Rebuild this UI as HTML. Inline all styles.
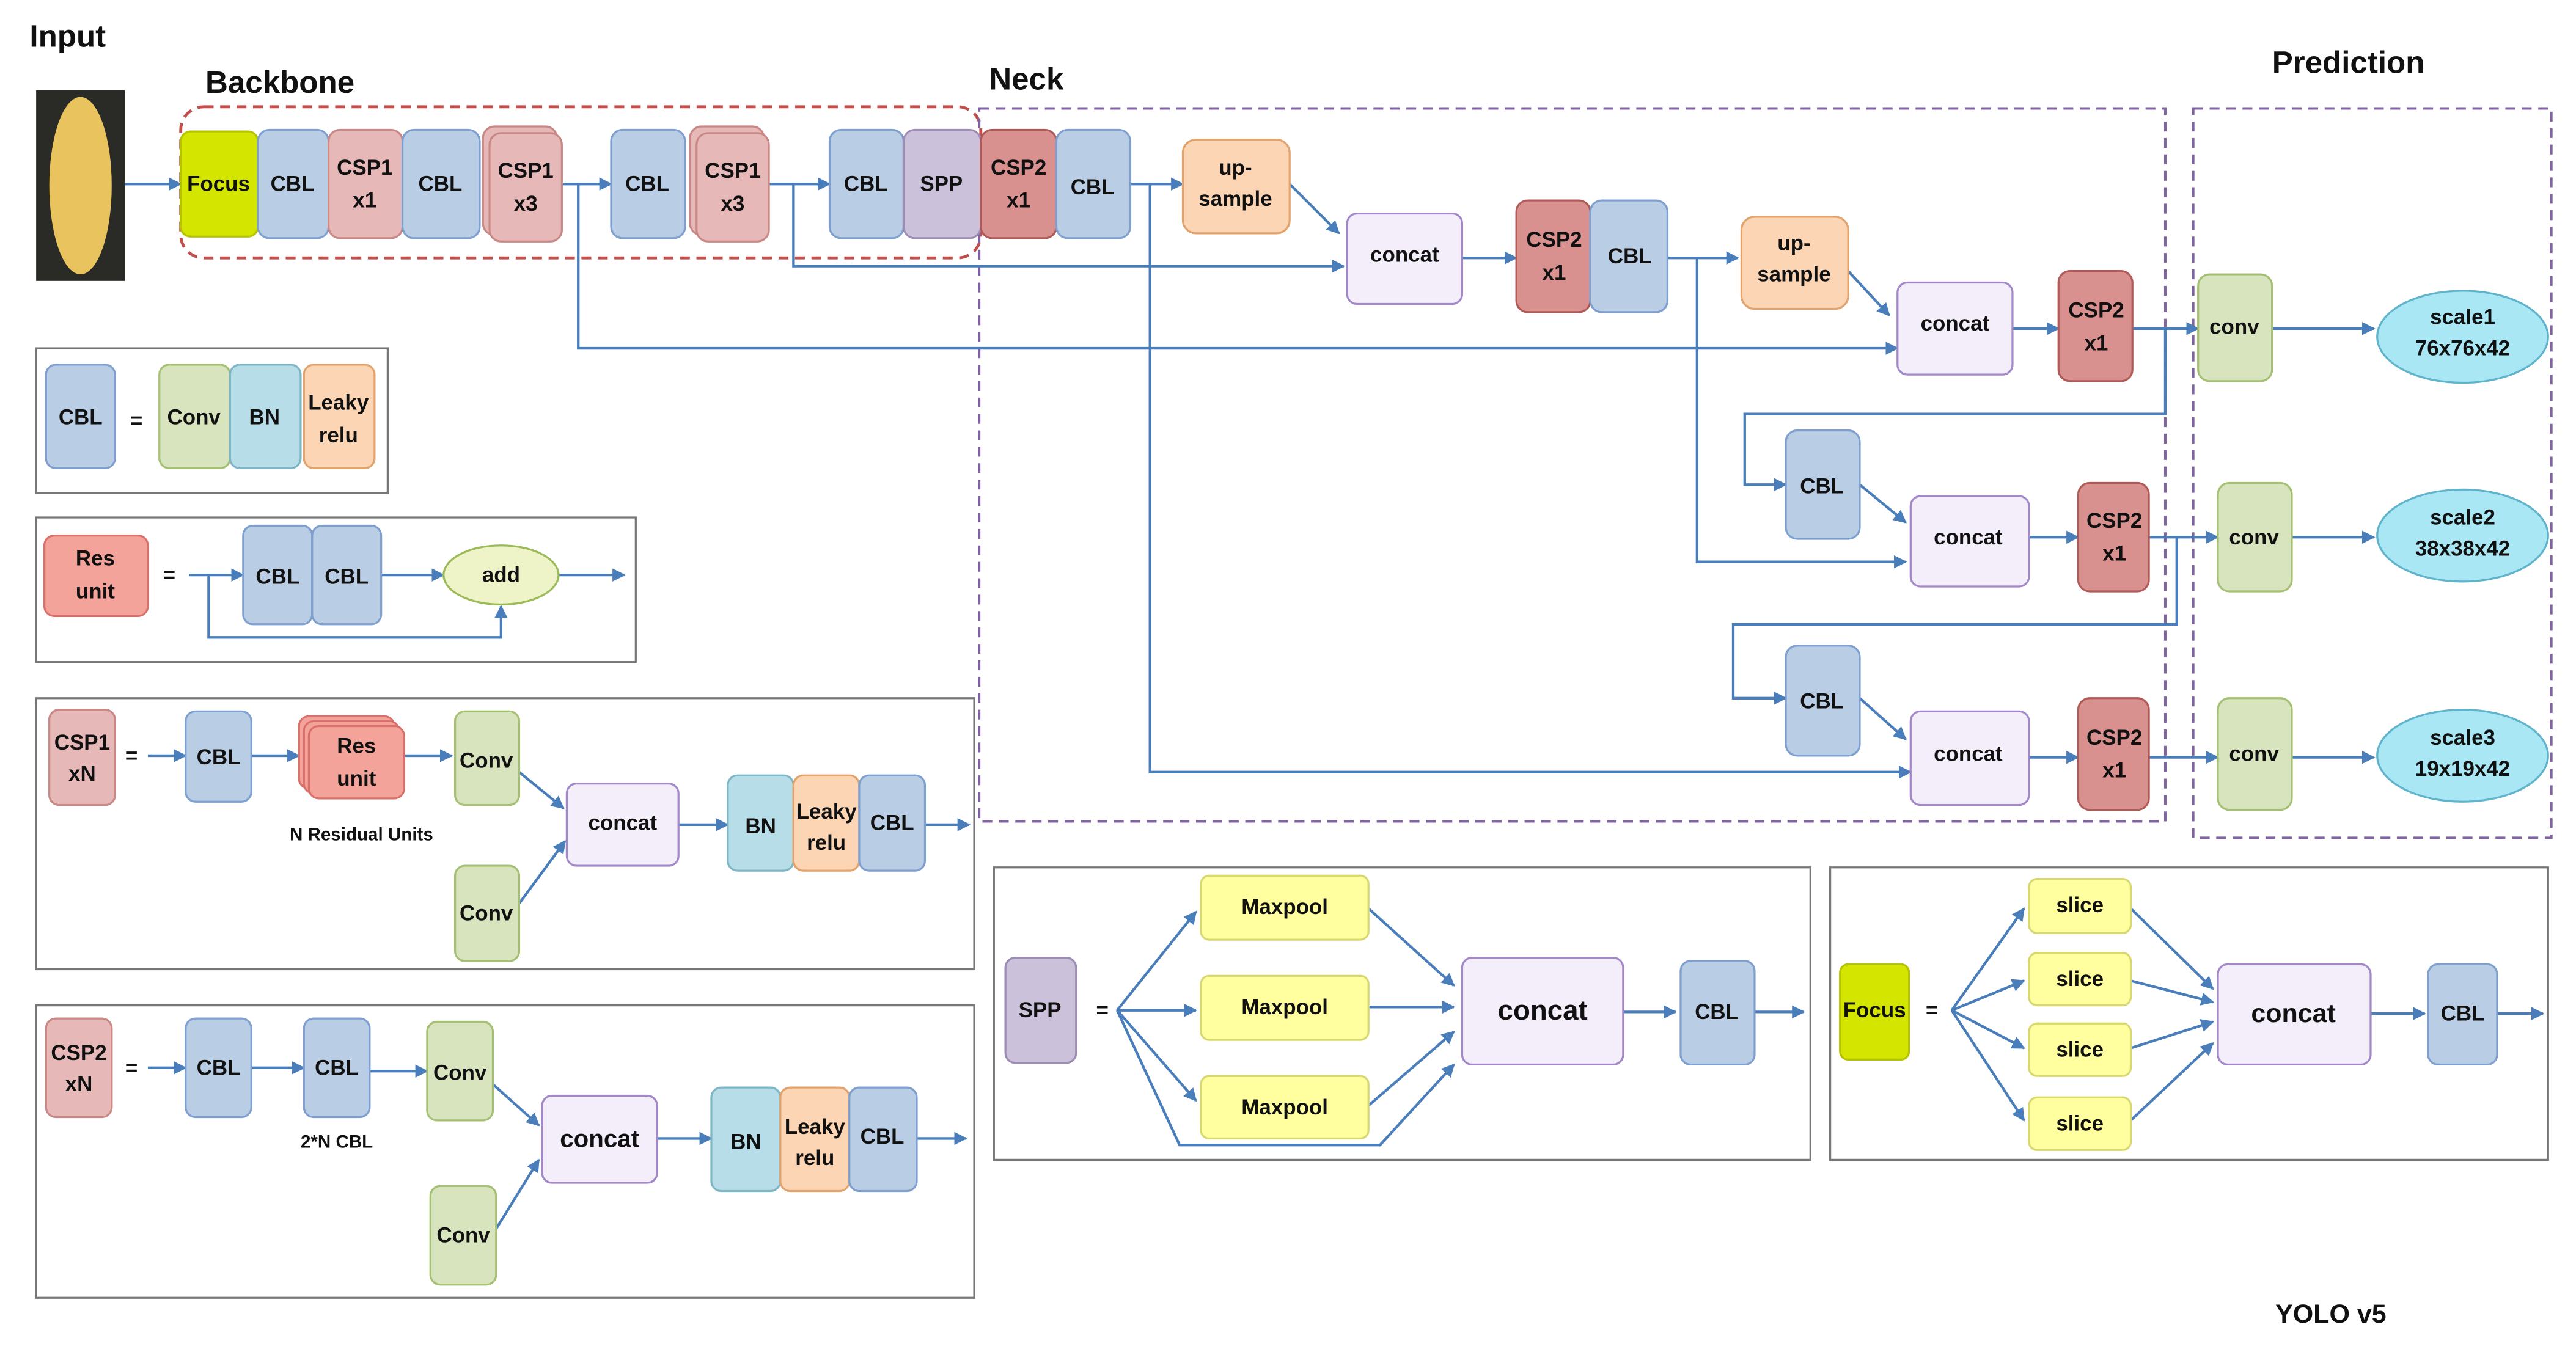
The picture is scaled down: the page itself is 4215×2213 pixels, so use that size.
<!DOCTYPE html>
<html><head><meta charset="utf-8"><style>
html,body{margin:0;padding:0;background:#fff}
svg{display:block}
text{font-family:"Liberation Sans",sans-serif;font-weight:bold;fill:#111;text-anchor:middle;dominant-baseline:central}
.t{font-size:13px}
.lbl{font-size:19px;text-anchor:start}
.ln{stroke:#4a7ebb;stroke-width:1.6;fill:none}
.bx{stroke-width:1.2}
.cbl{fill:#b9cde5;stroke:#7f9fcf}
.csp1{fill:#e6b9b8;stroke:#c98886}
.csp2{fill:#d99190;stroke:#b05a58}
.spp{fill:#ccc1da;stroke:#9d8db5}
.foc{fill:#d4e600;stroke:#b6c400}
.up{fill:#fcd5b5;stroke:#e3a36c}
.cc{fill:#f3eefa;stroke:#a288c8}
.cv{fill:#d7e4bd;stroke:#a5bf73}
.bn{fill:#b7dee8;stroke:#7fb6c6}
.lr{fill:#fcd5b5;stroke:#e3a36c}
.res{fill:#f4a39b;stroke:#d9706a}
.mp{fill:#ffff9f;stroke:#d8d870}
.sc{fill:#a9e7f4;stroke:#5fb4cc}
.leg{fill:#fff;stroke:#777;stroke-width:1.2}
</style></head><body>
<svg width="4215" height="2213" viewBox="0 0 1568 823" preserveAspectRatio="none" xmlns="http://www.w3.org/2000/svg">
<defs><marker id="a" viewBox="0 0 10 10" refX="9" refY="5" markerWidth="5" markerHeight="5" orient="auto"><path d="M0,0L10,5L0,10z" fill="#4a7ebb"/></marker></defs>
<g marker-end="url(#a)"></g>
<text class="lbl" x="18" y="22">Input</text>
<text class="lbl" x="125" y="50">Backbone</text>
<text class="lbl" x="602" y="48">Neck</text>
<text class="lbl" x="1383" y="38">Prediction</text>
<text class="lbl" x="1385" y="800" style="font-size:16px">YOLO v5</text>
<rect x="22" y="55" width="54" height="116" fill="#2a2a26"/>
<ellipse cx="49" cy="113" rx="19" ry="54" fill="#e8c35e"/>
<rect x="110" y="65" width="487" height="92" rx="14" fill="none" stroke="#c0504d" stroke-width="1.8" stroke-dasharray="6,4"/>
<rect x="596" y="66" width="722" height="434" fill="none" stroke="#8064a2" stroke-width="1.5" stroke-dasharray="6,4"/>
<rect x="1335" y="66" width="218" height="444" fill="none" stroke="#8064a2" stroke-width="1.5" stroke-dasharray="6,4"/>

<!-- connectors -->
<g class="ln" marker-end="url(#a)">
<path d="M76,112H110"/><path d="M342,112H372"/><path d="M468,112H505"/><path d="M688,112H720"/>
<path d="M352,112V212H1155"/><path d="M483,112V162H818"/><path d="M700,112V470H1163"/>
<path d="M785,112L815,142"/><path d="M890,157H923"/><path d="M1015,157H1058"/>
<path d="M1033,157V342H1160"/><path d="M1125,165L1150,192"/><path d="M1225,200H1253"/>
<path d="M1298,200H1338"/><path d="M1318,200V252H1062V295H1087"/>
<path d="M1132,295L1160,318"/><path d="M1235,327H1265"/><path d="M1308,327H1350"/>
<path d="M1325,327V380H1055V425H1087"/><path d="M1132,425L1160,450"/>
<path d="M1235,461H1265"/><path d="M1308,461H1350"/>
<path d="M1383,200H1445"/><path d="M1395,327H1445"/><path d="M1395,461H1445"/>
</g>

<!-- main row -->
<rect class="bx foc" x="110" y="80" width="47" height="64" rx="6"/><text class="t" x="133" y="112">Focus</text>
<rect class="bx cbl" x="157" y="79" width="43" height="66" rx="7"/><text class="t" x="178" y="112">CBL</text>
<rect class="bx csp1" x="200" y="79" width="45" height="66" rx="7"/><text class="t" x="222" y="102">CSP1</text><text class="t" x="222" y="122">x1</text>
<rect class="bx cbl" x="245" y="79" width="47" height="66" rx="7"/><text class="t" x="268" y="112">CBL</text>
<rect class="bx csp1" x="294" y="77" width="45" height="66" rx="7"/><rect class="bx csp1" x="298" y="81" width="44" height="66" rx="7"/><text class="t" x="320" y="104">CSP1</text><text class="t" x="320" y="124">x3</text>
<rect class="bx cbl" x="372" y="79" width="45" height="66" rx="7"/><text class="t" x="394" y="112">CBL</text>
<rect class="bx csp1" x="420" y="77" width="45" height="66" rx="7"/><rect class="bx csp1" x="424" y="81" width="44" height="66" rx="7"/><text class="t" x="446" y="104">CSP1</text><text class="t" x="446" y="124">x3</text>
<rect class="bx cbl" x="505" y="79" width="45" height="66" rx="7"/><text class="t" x="527" y="112">CBL</text>
<rect class="bx spp" x="550" y="79" width="47" height="66" rx="7"/><text class="t" x="573" y="112">SPP</text>
<rect class="bx csp2" x="597" y="79" width="46" height="66" rx="7"/><text class="t" x="620" y="102">CSP2</text><text class="t" x="620" y="122">x1</text>
<rect class="bx cbl" x="643" y="79" width="45" height="66" rx="7"/><text class="t" x="665" y="114">CBL</text>
<rect class="bx up" x="720" y="85" width="65" height="57" rx="8"/><text class="t" x="752" y="102">up-</text><text class="t" x="752" y="121">sample</text>
<rect class="bx cc" x="820" y="130" width="70" height="55" rx="6"/><text class="t" x="855" y="155">concat</text>
<rect class="bx csp2" x="923" y="122" width="45" height="68" rx="7"/><text class="t" x="946" y="146">CSP2</text><text class="t" x="946" y="166">x1</text>
<rect class="bx cbl" x="968" y="122" width="47" height="68" rx="7"/><text class="t" x="992" y="156">CBL</text>
<rect class="bx up" x="1060" y="132" width="65" height="56" rx="8"/><text class="t" x="1092" y="148">up-</text><text class="t" x="1092" y="167">sample</text>
<rect class="bx cc" x="1155" y="172" width="70" height="56" rx="6"/><text class="t" x="1190" y="197">concat</text>
<rect class="bx csp2" x="1253" y="165" width="45" height="67" rx="7"/><text class="t" x="1276" y="189">CSP2</text><text class="t" x="1276" y="209">x1</text>
<rect class="bx cv" x="1338" y="167" width="45" height="65" rx="7"/><text class="t" x="1360" y="199">conv</text>
<ellipse class="bx sc" cx="1499" cy="205" rx="52" ry="28"/><text class="t" x="1499" y="193">scale1</text><text class="t" x="1499" y="212">76x76x42</text>

<rect class="bx cbl" x="1087" y="262" width="45" height="66" rx="7"/><text class="t" x="1109" y="296">CBL</text>
<rect class="bx cc" x="1163" y="302" width="72" height="55" rx="6"/><text class="t" x="1198" y="327">concat</text>
<rect class="bx csp2" x="1265" y="294" width="43" height="66" rx="7"/><text class="t" x="1287" y="317">CSP2</text><text class="t" x="1287" y="337">x1</text>
<rect class="bx cv" x="1350" y="294" width="45" height="66" rx="7"/><text class="t" x="1372" y="327">conv</text>
<ellipse class="bx sc" cx="1499" cy="326" rx="52" ry="28"/><text class="t" x="1499" y="315">scale2</text><text class="t" x="1499" y="334">38x38x42</text>

<rect class="bx cbl" x="1087" y="393" width="45" height="67" rx="7"/><text class="t" x="1109" y="427">CBL</text>
<rect class="bx cc" x="1163" y="433" width="72" height="57" rx="6"/><text class="t" x="1198" y="459">concat</text>
<rect class="bx csp2" x="1265" y="425" width="43" height="68" rx="7"/><text class="t" x="1287" y="449">CSP2</text><text class="t" x="1287" y="469">x1</text>
<rect class="bx cv" x="1350" y="425" width="45" height="68" rx="7"/><text class="t" x="1372" y="459">conv</text>
<ellipse class="bx sc" cx="1499" cy="460" rx="52" ry="28"/><text class="t" x="1499" y="449">scale3</text><text class="t" x="1499" y="468">19x19x42</text>

<!-- legend 1 -->
<rect class="leg" x="22" y="212" width="214" height="88"/>
<rect class="bx cbl" x="28" y="222" width="42" height="63" rx="6"/><text class="t" x="49" y="254">CBL</text>
<text class="t" x="83" y="256">=</text>
<rect class="bx cv" x="97" y="222" width="43" height="63" rx="6"/><text class="t" x="118" y="254">Conv</text>
<rect class="bx bn" x="140" y="222" width="43" height="63" rx="6"/><text class="t" x="161" y="254">BN</text>
<rect class="bx lr" x="185" y="222" width="43" height="63" rx="6"/><text class="t" x="206" y="245">Leaky</text><text class="t" x="206" y="265">relu</text>

<!-- legend 2 -->
<rect class="leg" x="22" y="315" width="365" height="88"/>
<rect class="bx res" x="27" y="326" width="63" height="49" rx="6"/><text class="t" x="58" y="340">Res</text><text class="t" x="58" y="360">unit</text>
<text class="t" x="103" y="350">=</text>
<g class="ln" marker-end="url(#a)"><path d="M115,350H148"/><path d="M232,350H270"/><path d="M340,350H380"/><path d="M127,350V388H305V369"/></g>
<rect class="bx cbl" x="148" y="320" width="42" height="60" rx="6"/><text class="t" x="169" y="351">CBL</text>
<rect class="bx cbl" x="190" y="320" width="42" height="60" rx="6"/><text class="t" x="211" y="351">CBL</text>
<ellipse cx="305" cy="350" rx="35" ry="18" fill="#eef3c8" stroke="#9bbb59" stroke-width="1.2"/><text class="t" x="305" y="350">add</text>

<!-- legend 3 -->
<rect class="leg" x="22" y="425" width="571" height="165"/>
<rect class="bx csp1" x="30" y="432" width="40" height="58" rx="6"/><text class="t" x="50" y="452">CSP1</text><text class="t" x="50" y="471">xN</text>
<text class="t" x="80" y="460">=</text>
<g class="ln" marker-end="url(#a)"><path d="M90,460H113"/><path d="M153,460H182"/><path d="M245,460H275"/><path d="M316,470L343,492"/><path d="M316,550L344,512"/><path d="M413,502H443"/><path d="M563,502H590"/></g>
<rect class="bx cbl" x="113" y="433" width="40" height="55" rx="6"/><text class="t" x="133" y="461">CBL</text>
<rect class="bx res" x="182" y="436" width="58" height="44" rx="6"/><rect class="bx res" x="185" y="439" width="58" height="44" rx="6"/><rect class="bx res" x="188" y="442" width="58" height="44" rx="6"/>
<text class="t" x="217" y="454">Res</text><text class="t" x="217" y="474">unit</text>
<text class="t" x="220" y="508" style="font-size:11px">N Residual Units</text>
<rect class="bx cv" x="277" y="433" width="39" height="57" rx="6"/><text class="t" x="296" y="463">Conv</text>
<rect class="bx cv" x="277" y="527" width="39" height="58" rx="6"/><text class="t" x="296" y="556">Conv</text>
<rect class="bx cc" x="345" y="477" width="68" height="50" rx="6"/><text class="t" x="379" y="501">concat</text>
<rect class="bx bn" x="443" y="472" width="40" height="58" rx="6"/><text class="t" x="463" y="503">BN</text>
<rect class="bx lr" x="483" y="472" width="40" height="58" rx="6"/><text class="t" x="503" y="494">Leaky</text><text class="t" x="503" y="513">relu</text>
<rect class="bx cbl" x="523" y="472" width="40" height="58" rx="6"/><text class="t" x="543" y="501">CBL</text>

<!-- legend 4 -->
<rect class="leg" x="22" y="612" width="571" height="178"/>
<rect class="bx csp1" x="28" y="620" width="40" height="60" rx="6"/><text class="t" x="48" y="641">CSP2</text><text class="t" x="48" y="660">xN</text>
<text class="t" x="80" y="650">=</text>
<g class="ln" marker-end="url(#a)"><path d="M90,650H113"/><path d="M153,650H185"/><path d="M225,652H260"/><path d="M300,660L328,685"/><path d="M302,748L328,706"/><path d="M400,693H433"/><path d="M558,693H588"/></g>
<rect class="bx cbl" x="113" y="620" width="40" height="60" rx="6"/><text class="t" x="133" y="650">CBL</text>
<rect class="bx cbl" x="185" y="620" width="40" height="60" rx="6"/><text class="t" x="205" y="650">CBL</text>
<text class="t" x="205" y="695" style="font-size:11px">2*N CBL</text>
<rect class="bx cv" x="260" y="622" width="40" height="60" rx="6"/><text class="t" x="280" y="653">Conv</text>
<rect class="bx cv" x="262" y="722" width="40" height="60" rx="6"/><text class="t" x="282" y="752">Conv</text>
<rect class="bx cc" x="330" y="667" width="70" height="53" rx="6"/><text class="t" x="365" y="693" style="font-size:15px">concat</text>
<rect class="bx bn" x="433" y="662" width="42" height="63" rx="6"/><text class="t" x="454" y="695">BN</text>
<rect class="bx lr" x="475" y="662" width="42" height="63" rx="6"/><text class="t" x="496" y="686">Leaky</text><text class="t" x="496" y="705">relu</text>
<rect class="bx cbl" x="517" y="662" width="41" height="63" rx="6"/><text class="t" x="537" y="692">CBL</text>

<!-- SPP -->
<rect class="leg" x="605" y="528" width="497" height="178"/>
<rect class="bx spp" x="612" y="583" width="43" height="64" rx="6"/><text class="t" x="633" y="615">SPP</text>
<text class="t" x="671" y="615">=</text>
<g class="ln" marker-end="url(#a)"><path d="M680,615L728,555"/><path d="M680,615H728"/><path d="M680,615L728,670"/><path d="M680,615L718,697H840L885,648"/><path d="M833,553L885,600"/><path d="M833,613H885"/><path d="M833,673L885,628"/><path d="M988,616H1020"/><path d="M1068,616H1098"/></g>
<rect class="bx mp" x="731" y="533" width="102" height="39" rx="5"/><text class="t" x="782" y="552">Maxpool</text>
<rect class="bx mp" x="731" y="594" width="102" height="39" rx="5"/><text class="t" x="782" y="613">Maxpool</text>
<rect class="bx mp" x="731" y="655" width="102" height="38" rx="5"/><text class="t" x="782" y="674">Maxpool</text>
<rect class="bx cc" x="890" y="583" width="98" height="65" rx="6"/><text class="t" x="939" y="615" style="font-size:17px">concat</text>
<rect class="bx cbl" x="1023" y="585" width="45" height="63" rx="6"/><text class="t" x="1045" y="616">CBL</text>

<!-- Focus -->
<rect class="leg" x="1114" y="528" width="437" height="178"/>
<rect class="bx foc" x="1120" y="587" width="42" height="58" rx="5"/><text class="t" x="1141" y="615">Focus</text>
<text class="t" x="1176" y="615">=</text>
<g class="ln" marker-end="url(#a)"><path d="M1188,615L1232,553"/><path d="M1188,615L1232,597"/><path d="M1188,615L1232,638"/><path d="M1188,615L1232,682"/><path d="M1297,553L1347,602"/><path d="M1297,597L1347,610"/><path d="M1297,638L1347,622"/><path d="M1297,682L1347,635"/><path d="M1443,617H1476"/><path d="M1520,617H1548"/></g>
<rect class="bx mp" x="1235" y="535" width="62" height="33" rx="5"/><text class="t" x="1266" y="551">slice</text>
<rect class="bx mp" x="1235" y="580" width="62" height="32" rx="5"/><text class="t" x="1266" y="596">slice</text>
<rect class="bx mp" x="1235" y="623" width="62" height="32" rx="5"/><text class="t" x="1266" y="639">slice</text>
<rect class="bx mp" x="1235" y="668" width="62" height="32" rx="5"/><text class="t" x="1266" y="684">slice</text>
<rect class="bx cc" x="1350" y="587" width="93" height="61" rx="6"/><text class="t" x="1396" y="617" style="font-size:16px">concat</text>
<rect class="bx cbl" x="1478" y="587" width="42" height="61" rx="6"/><text class="t" x="1499" y="617">CBL</text>
</svg>
</body></html>
